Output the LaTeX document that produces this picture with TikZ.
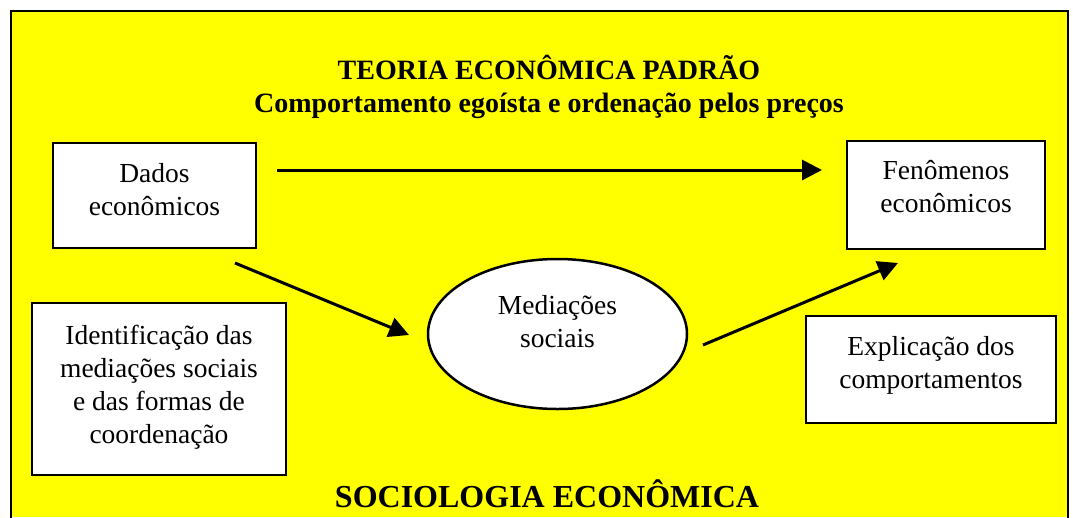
\documentclass[tikz,border=0pt]{standalone}
\usepackage{fontspec}
\setmainfont{Liberation Serif}
\usetikzlibrary{arrows.meta,shapes.geometric}

\definecolor{bgyellow}{RGB}{255,255,0}
\newcommand{\lift}[1]{\rule[-#1]{0pt}{#1}}

\begin{document}
\begin{tikzpicture}[x=1pt, y=-1pt, line width=2.5pt, >={Triangle[length=20pt,width=20pt]},
  box/.style = {draw, fill=white, rectangle, align=center, inner sep=0pt, font=\fontsize{27.5}{33}\selectfont},
  bubble/.style = {draw, fill=white, ellipse, align=center, inner sep=0pt, font=\fontsize{27.5}{33}\selectfont},
  title/.style = {anchor=base, inner sep=0pt, font=\fontsize{28}{33}\selectfont\bfseries}]
\useasboundingbox (0,0) rectangle (1073,517);
\fill[bgyellow] (11,11) rectangle (1068,517);
\draw (11,525) -- (11,11) -- (1068,11) -- (1068,525);

\node[title] (teoria) at (549,79) {TEORIA ECONÔMICA PADRÃO};
\node[title] (comport) at (549,112) {Comportamento egoísta e ordenação pelos preços};
\node[title, font=\fontsize{32}{36}\selectfont\bfseries] (socio) at (547,507) {SOCIOLOGIA ECONÔMICA};

\node[box, minimum width=203pt, minimum height=105pt] (dados) at (154.5,195.5) {Dados\\econômicos\lift{13pt}};
\node[box, minimum width=198pt, minimum height=108pt] (fen) at (946,195) {Fenômenos\\econômicos\lift{18pt}};
\node[box, minimum width=250pt, minimum height=107pt] (expl) at (931,369.5) {Explicação dos\\comportamentos\lift{14pt}};
\node[box, minimum width=254pt, minimum height=172pt] (ident) at (159,389) {Identificação das\\mediações sociais\\e das formas de\\coordenação\lift{10pt}};
\node[bubble, minimum width=259pt, minimum height=150pt] (med) at (557.5,334) {Mediações\\sociais\lift{26pt}};

\coordinate (a1) at (277,170);
\coordinate (b1) at (822,170);
\coordinate (a2) at (235,263);
\coordinate (b2) at (409,335);
\coordinate (a3) at (703,345);
\coordinate (b3) at (898,263);
\draw[->, line width=3pt] (a1) -- (b1);
\draw[->, line width=3pt] (a2) -- (b2);
\draw[->, line width=3pt] (a3) -- (b3);

\end{tikzpicture}
\end{document}
